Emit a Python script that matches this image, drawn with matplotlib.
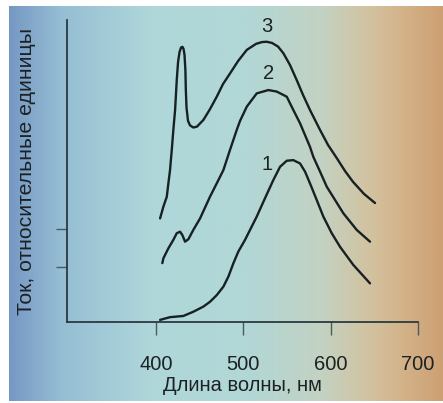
import matplotlib
matplotlib.use("Agg")
import matplotlib.pyplot as plt
import numpy as np
from matplotlib.colors import LinearSegmentedColormap

plt.rcParams['font.family'] = ['Liberation Sans', 'DejaVu Sans']

# wavelength (nm) / relative current
wl3 = [404.6, 408.4, 412.3, 414.1, 416.0, 418.0, 419.8, 421.8, 423.7, 425.2, 426.9,
       428.6, 430.3, 431.5, 432.6, 433.6, 434.1, 434.9, 436.6, 438.9, 442.7, 446.9,
       454.2, 461.8, 469.5, 476.7, 484.7, 493.9, 503.9, 514.5, 521.4, 526.8, 532.8,
       539.7, 545.8, 553.4, 561.1, 568.3, 576.3, 587.8, 597.0, 606.9, 616.4, 625.6,
       638.2, 650.8]
cur3 = [34.3, 38.2, 41.5, 45.9, 50.3, 57.0, 63.6, 70.2, 80.1, 86.1, 89.4,
        90.9, 91.1, 90.4, 88.4, 83.4, 76.8, 70.9, 66.6, 65.1, 64.4, 64.7,
        66.9, 70.5, 74.6, 78.8, 82.3, 86.4, 90.1, 92.1, 92.7, 92.8, 92.4,
        91.2, 89.0, 85.1, 80.1, 75.2, 70.2, 63.6, 58.6, 54.3, 50.0, 46.4,
        42.4, 39.4]

wl2 = [407.2, 408.4, 414.1, 419.8, 423.7, 427.5, 430.1, 433.2, 437.0, 442.7, 450.4,
       461.8, 469.5, 477.1, 484.7, 492.4, 496.2, 503.9, 515.3, 528.6, 538.2, 549.7,
       557.2, 564.9, 576.3, 580.1, 587.8, 595.5, 605.0, 614.5, 629.8, 645.0]
cur2 = [19.5, 21.1, 24.4, 27.2, 29.4, 29.9, 28.8, 26.6, 27.4, 30.5, 34.3,
        41.5, 45.9, 50.3, 57.0, 63.6, 66.6, 71.3, 75.7, 76.8, 76.3, 74.6,
        70.2, 65.8, 58.0, 54.7, 49.8, 44.8, 40.4, 36.0, 30.5, 26.6]

wl1 = [404.6, 416.0, 431.3, 442.7, 454.2, 461.8, 469.5, 477.1, 482.8, 488.5, 494.2,
       501.9, 515.3, 524.8, 534.3, 542.0, 549.7, 557.2, 564.9, 570.6, 576.3, 584.0,
       591.6, 601.2, 610.7, 625.9, 645.0]
cur1 = [0.7, 1.6, 2.0, 3.4, 5.1, 6.7, 8.9, 11.7, 15.0, 19.4, 23.3,
        27.2, 34.9, 41.0, 47.0, 51.4, 53.4, 53.6, 52.5, 49.8, 45.9, 40.4,
        34.9, 29.4, 24.9, 18.9, 12.8]

curve_names = ['1', '2', '3']
label_pos = [(526.8, 52.0), (528.6, 82.4), (526.8, 97.8)]

x_ticks = [400, 500, 600, 700]
y_ticks = [18.3, 30.7]

W, H = 443, 403
fig = plt.figure(figsize=(W / 100, H / 100), dpi=100)
fig.patch.set_facecolor('white')

# background gradient
bg = fig.add_axes([9 / W, 2 / H, (W - 9) / W, (H - 8) / H])
stops = [(0.0, (118, 152, 196)), (0.12, (150, 190, 212)), (0.33, (175, 215, 218)),
         (0.55, (178, 215, 214)), (0.72, (195, 210, 195)), (0.83, (210, 195, 160)),
         (0.90, (212, 180, 140)), (1.0, (205, 160, 115))]
cmap = LinearSegmentedColormap.from_list('bg', [(p, tuple(c / 255 for c in col)) for p, col in stops])
bg.imshow(np.linspace(0, 1, 256)[None, :], aspect='auto', cmap=cmap, extent=[0, 1, 0, 1])
bg.set_axis_off()

ax = fig.add_axes([67 / W, (H - 322) / H, (418 - 67) / W, (322 - 20) / H])
ax.patch.set_alpha(0)

line_col = '#172022'
for wl, cur in [(wl1, cur1), (wl2, cur2), (wl3, cur3)]:
    ax.plot(wl, cur, color=line_col, lw=1.7, solid_joinstyle='round', solid_capstyle='round')

for name, (lx, ly) in zip(curve_names, label_pos):
    ax.text(lx, ly, name, fontsize=14.5, color='#1c2224', ha='center', va='center')

ax.set_xlim(298, 700)
ax.set_ylim(0, 100)
for s in ['top', 'right']:
    ax.spines[s].set_visible(False)
for s in ['left', 'bottom']:
    ax.spines[s].set_color('#2a3a40')
    ax.spines[s].set_linewidth(1.3)

ax.set_xticks(x_ticks)
ax.set_xticklabels([str(t) for t in x_ticks])
ax.set_yticks(y_ticks)
ax.set_yticklabels([])
ax.tick_params(axis='x', direction='out', length=9, width=1.0, color='#4a5a60',
               pad=15, labelsize=14.5, labelcolor='#1c2224')
ax.tick_params(axis='y', direction='out', length=8, width=1.0, color='#4a5a60')

ax.set_xlabel('Длина волны, нм', fontsize=14.5, color='#1c2224', labelpad=1)
ax.set_ylabel('Ток, относительные единицы', fontsize=15.3, color='#1c2224', labelpad=11)

fig.savefig('out.png', dpi=100)
